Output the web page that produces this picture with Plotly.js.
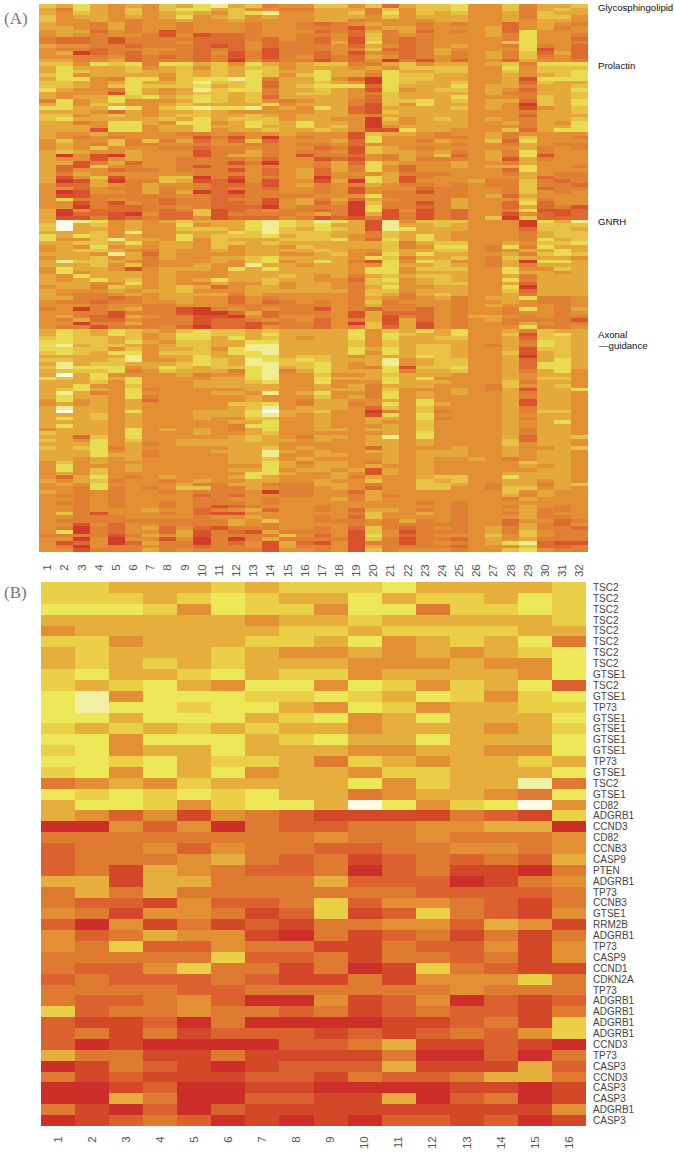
<!DOCTYPE html>
<html><head><meta charset="utf-8">
<script src="https://cdn.plot.ly/plotly-3.0.1.min.js"></script>
<style>html,body{margin:0;padding:0;background:#fff}#c{width:675px;height:1152px}</style>
</head><body><div id="c"></div>
<script>
// Each string is one heatmap row; each digit is a level (0 red ... 9 near white)
const panelARows = [
"65754546 57856344 66462566 74463556",
"53754646 77564433 55536466 74463565",
"54654645 65467844 55637465 64453655",
"64554545 74564544 55546455 54453664",
"64454344 54454444 55344445 54454554",
"54435344 34443443 23454434 34424543",
"55435344 34443443 33145534 44524534",
"45524341 34443444 23253524 34527444",
"45434431 41223443 34263434 44537443",
"32231333 32223243 24163234 44437442",
"32231333 42224233 25173234 44467443",
"54433233 32124233 34254234 54437342",
"43323344 32324133 34362235 44447142",
"45023243 32413133 24143235 34536252",
"44334232 32313134 23254234 34536342",
"55345233 32304233 13240314 24425443",
"66476737 75647545 66335645 54563777",
"57555645 64656645 55454666 64474666",
"57655655 65657655 75547556 64464667",
"67455554 65657646 75537665 54454567",
"57743774 67787355 74207665 54451777",
"66545755 68667255 65407655 64452655",
"66546766 67567256 77727555 74553556",
"75443754 58677355 65417456 64542557",
"54441754 56656356 65436555 54533556",
"54557675 67656255 55426555 74443656",
"37457444 57656434 55326675 64552657",
"57465445 65555745 55316475 54540657",
"77558746 78778454 75215555 64541456",
"55542545 56544444 55216555 54443556",
"66456545 66556545 55435555 54442555",
"67555556 57566645 54406456 54543556",
"55347754 77457657 55405455 54453547",
"55547745 57557557 56404555 54443557",
"55517745 57455655 65411755 44462577",
"54454444 33434454 44165543 44534444",
"54343444 41314043 44174443 34536443",
"46446363 52426244 45274435 44627444",
"45436334 43443343 34244444 34435433",
"45464443 32334344 23165434 44445343",
"56544544 41335343 34165545 34537344",
"50410544 41355341 33243546 24537144",
"54414544 33334244 12143533 34515344",
"55135244 33313044 35275444 54435444",
"52164344 31334344 35374244 54557443",
"52442334 33314245 25374244 44427444",
"53544444 43334245 24445333 44435433",
"51461446 60314345 04375134 44445233",
"50150336 51204144 15075144 45336323",
"42254354 43223145 34354334 34336332",
"44243353 43233244 34144423 34436233",
"40144353 50203344 34143313 34436434",
"41133333 43223333 44473333 34525444",
"47334332 33233145 35254333 54446344",
"44131432 33223145 24063313 54427244",
"44032233 43222043 33073323 54425231",
"50422232 36123433 23071413 24437112",
"50221042 26133334 53051313 24414212",
"51131232 24122243 12131313 24606222",
"59874545 65557876 87518466 64440758",
"69564544 74557876 75518556 54440666",
"69554544 66657865 76518755 54442665",
"55564844 55576866 65536555 44443566",
"75764544 75666756 65436575 44443566",
"74468554 74655566 67427575 44443756",
"55665745 54665655 55556356 64454667",
"45474545 54645546 55556347 74373755",
"45665435 44545555 65446556 64345575",
"55548525 44445544 56437575 54453676",
"45564535 44556755 55476355 64365554",
"58665434 44546745 75317476 44350775",
"55564634 45448554 55447556 54353555",
"47554145 55475755 55477466 64474465",
"47455545 44455555 55477455 54475545",
"54755545 44455565 45356566 54453555",
"54575645 45755655 44267456 54473555",
"55544745 43544645 54366456 64452555",
"45536545 65245545 54357445 54470555",
"54445455 64445555 55366455 54462555",
"54334545 55535444 44365356 54453555",
"55332345 54424344 44354345 34557334",
"43323344 54424234 34363444 34454334",
"44434433 44433333 34353344 34544434",
"34034533 10343433 14323324 34437435",
"44331333 10025233 34152224 34434434",
"45321543 31104244 34151324 35543433",
"43522433 31223434 24351524 34533331",
"44033533 31221233 24061514 34435433",
"43313334 20221433 24362514 34447334",
"57657654 67665655 55746575 74453655",
"57657645 77665755 55747655 74461675",
"67665645 77575654 55747556 64452665",
"77665754 66557755 55646555 54453765",
"78566545 66558855 55646566 54353765",
"77664645 56478855 55757566 54451665",
"67657746 66577855 55747566 54461565",
"55555845 57557756 65455576 54450565",
"66556844 57658767 65558456 64452575",
"58566555 67658866 75458456 64452775",
"68777457 65667856 75437166 74452775",
"56667346 55537835 75557355 64453574",
"59574444 53447844 64456555 44454554",
"76575744 44557844 75557574 44454664",
"55564744 45556744 74447555 44463554",
"55744644 45555544 54535554 44364564",
"56754734 44445544 55536444 54351557",
"58534744 44554845 74437454 54453554",
"57554734 44445444 64537454 44453554",
"47454524 44445443 55445474 44451554",
"45454544 44466743 55347475 44451554",
"58554544 44456845 55426464 44453554",
"59554744 45557955 64403463 44453664",
"55564544 45557854 54417474 44454554",
"57564544 45446644 54455473 44453554",
"55554544 44455744 54454464 44454574",
"57554544 44437744 54445464 44454554",
"45554745 45435744 55455464 44453554",
"65554744 45445644 44445474 44453554",
"55264744 44456543 55458474 44452556",
"65474644 55556554 54455454 44462554",
"55574534 55555544 44455454 44464554",
"65673544 44455645 44425444 54454456",
"55574534 44555854 54455455 54454554",
"55575534 44455844 55445455 54454554",
"55454544 44455645 44445454 45434554",
"46454444 44455753 55435454 44446554",
"47444544 44444754 55454454 44445454",
"47464544 44455745 54515454 44444554",
"45464444 44447754 45415454 44455554",
"42574345 44457544 45354456 64475554",
"54563443 45445544 54464465 64455454",
"45474444 53355333 55434466 54355356",
"44373434 66335433 45424466 44366454",
"54343443 43334033 44254444 44464544",
"43343444 42324433 44353444 44453544",
"44343444 43344344 45354444 44435444",
"43343443 43334344 44444434 34444444",
"44343443 43123444 34444444 34435434",
"44344454 42345244 34255434 34445334",
"46314443 42114444 44364454 34435344",
"44333444 43445444 34264444 34445334",
"43333333 33354644 33343534 34424423",
"44142443 33354344 44343333 34425324",
"43032452 42133344 34263234 34535332",
"47032442 51321533 34164133 34536433",
"33331354 51333364 24174234 44646433",
"44040441 40303533 33163133 24545333",
"41240253 30324152 14133134 34578211",
"43043343 32334153 34153333 24446223",
"44133353 43333144 34163444 34467433"
];
const panelBRows = [
"6655565666755556","6665676557566576","7776476647736676","5555554556555556",
"4555555665666655","6645556657456573","5655565445454567","5656565554445447",
"6755675664555547","6567547747646572","7847776676576467","7877677547645566",
"7757775674575557","6565656554555456","7747775675575557","6745575554455447",
"7767566536545565","6747574554665557","3454655557465583","7676767553455437",
"5776467759746794","5424143211113216","0042403223344550","3333333343343334",
"2334243322334434","2333453231232325","2315432230231103","5515533352220134",
"3535333333322223","3221422362443213","4314431261263214","2041312133442541",
"4235441031231313","4362243311322414","3333362231332314","3224633130163211",
"2322232113144463","3333223333334333","3223420041240212","6233433231232213",
"2112030000112316","2313122212123246","2010000223511210","5331131111300203",
"0132101222511152","3121112213223553","0012001100001101","0053002211502301",
"3102021111111114","0123201010221201"
];
const panelBLabels = ["TSC2","TSC2","TSC2","TSC2","TSC2","TSC2","TSC2","TSC2","GTSE1","TSC2","GTSE1","TP73","GTSE1","GTSE1","GTSE1","GTSE1","TP73","GTSE1","TSC2","GTSE1","CD82","ADGRB1","CCND3","CD82","CCNB3","CASP9","PTEN","ADGRB1","TP73","CCNB3","GTSE1","RRM2B","ADGRB1","TP73","CASP9","CCND1","CDKN2A","TP73","ADGRB1","ADGRB1","ADGRB1","ADGRB1","CCND3","TP73","CASP3","CCND3","CASP3","CASP3","ADGRB1","CASP3"];
const panelAColumns = Array.from({length:32},(_,i)=>i+1);
const panelBColumns = Array.from({length:16},(_,i)=>i+1);
const heatColorsA = ["#D23A2A","#D8522C","#DD6A30","#E08032","#E39035","#E5A83A","#E8C244","#EADC50","#F1EC90","#FDFBE6"];
const heatColorsB = ["#CE2E2A","#D4482A","#DB622F","#DF7A31","#E39035","#E6AE3C","#EBCF47","#EDE857","#F3F0A4","#FDFBE6"];

const toGrid = rows => rows.map(r => r.replace(/ /g,'').split('').map(Number));
const toScale = cols => cols.map((c,i)=>[i/9,c]);
const W=675,H=1152;
const base = {type:'heatmap',zmin:0,zmax:9,showscale:false,hoverinfo:'skip'};
const traceA = Object.assign({},base,{colorscale:toScale(heatColorsA),z:toGrid(panelARows),x:panelAColumns,y:panelARows.map((_,i)=>i),xaxis:'x',yaxis:'y'});
const traceB = Object.assign({},base,{colorscale:toScale(heatColorsB),z:toGrid(panelBRows),x:panelBColumns,y:panelBRows.map((_,i)=>i),xaxis:'x2',yaxis:'y2'});
const tickF = {family:'"Liberation Sans",Arial,sans-serif',size:11.5,color:'#555'};
const sideNote = (t,x,y)=>({text:t,xref:'paper',yref:'paper',x:x/W,y:1-y/H,xanchor:'left',yanchor:'middle',showarrow:false,
  font:{family:'"Liberation Sans",Arial,sans-serif',size:9.6,color:'#111'}});
const panelTag = (t,y)=>({text:t,xref:'paper',yref:'paper',x:2/W,y:1-y/H,xanchor:'left',yanchor:'middle',showarrow:false,
  font:{family:'"Liberation Serif","Times New Roman",serif',size:17,color:'#777'}});
const layout = {
  width:W,height:H,margin:{l:0,r:0,t:0,b:0},paper_bgcolor:'#fff',plot_bgcolor:'#fff',showlegend:false,
  xaxis:{domain:[39/W,588/W],anchor:'y',range:[0.5,32.5],tickmode:'array',tickvals:panelAColumns,ticktext:panelAColumns.map(String),tickangle:-90,ticks:'',tickfont:tickF,showgrid:false,zeroline:false,showline:false,ticklabelstandoff:9},
  yaxis:{domain:[1-552/H,1-4/H],anchor:'x',range:[149.5,-0.5],showticklabels:false,ticks:'',showgrid:false,zeroline:false,showline:false},
  xaxis2:{domain:[41/W,586/W],anchor:'y2',range:[0.5,16.5],tickmode:'array',tickvals:panelBColumns,ticktext:panelBColumns.map(String),tickangle:-90,ticks:'',tickfont:tickF,showgrid:false,zeroline:false,showline:false,ticklabelstandoff:7},
  yaxis2:{domain:[1-1126/H,1-582/H],anchor:'x2',side:'right',range:[49.5,-0.5],tickmode:'array',tickvals:panelBLabels.map((_,i)=>i),ticktext:panelBLabels,ticks:'',tickfont:{family:tickF.family,size:10,color:'#444'},showgrid:false,zeroline:false,showline:false,ticklabelstandoff:6},
  annotations:[panelTag('(A)',18),panelTag('(B)',592),
    sideNote('Glycosphingolipid',596,8),sideNote('Prolactin',596,65),sideNote('GNRH',596,221),
    sideNote('Axonal',596,334),sideNote('\u2014guidance',597,345)]
};
Plotly.newPlot('c',[traceA,traceB],layout,{staticPlot:true,displayModeBar:false});
</script></body></html>
